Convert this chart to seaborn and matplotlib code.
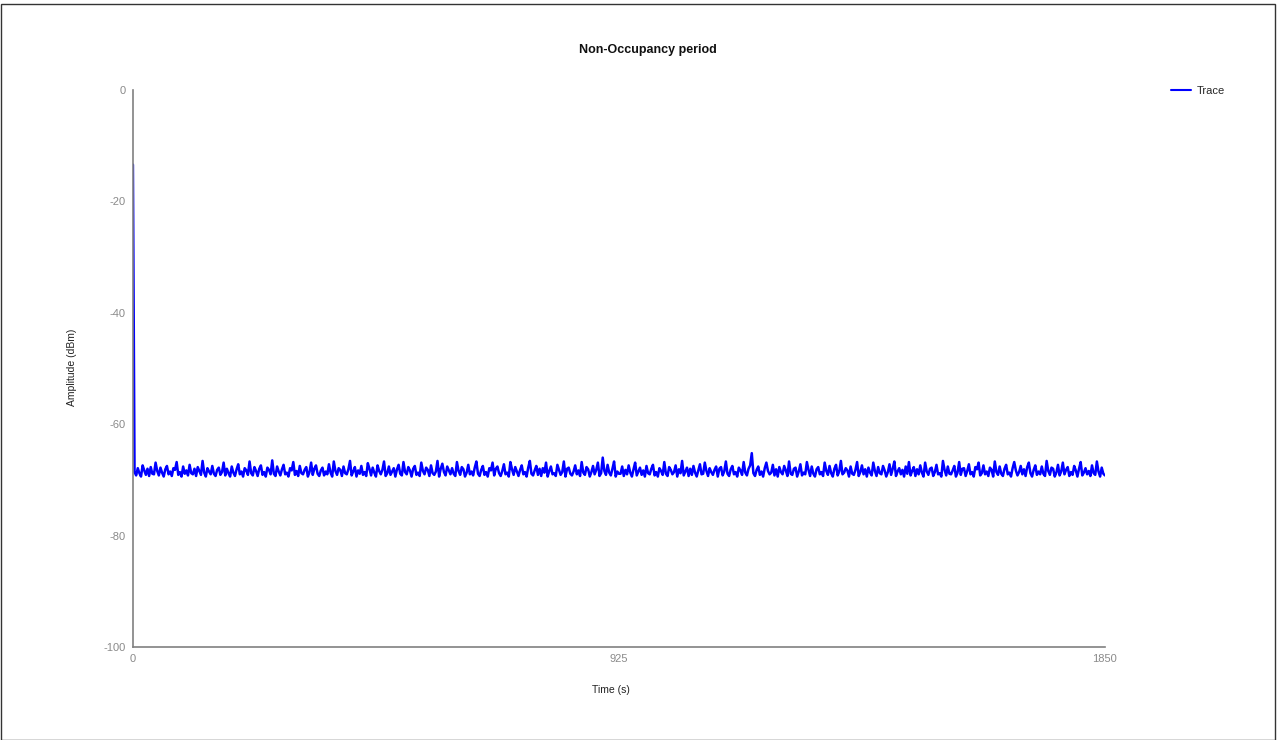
import numpy as np
import seaborn as sns
import matplotlib.pyplot as plt
from matplotlib.patches import Rectangle

# spectrum analyser trace, amplitude in dBm, one value per sample
start_amp = [-13.4]
noise_amp = [
    -68.6, -69.2, -67.9, -68.8, -69.4, -67.4, -68.3, -69.1, -68.0, -69.3, -67.7, -68.9, -69.0, -66.9, -68.4, -69.2, -67.8, -68.7, -69.4, -68.1,
    -67.5, -69.0, -68.5, -69.3, -67.9, -68.2, -66.8, -69.1, -68.6, -69.4, -67.6, -68.9, -68.3, -69.2, -67.3, -68.8, -69.0, -68.0, -69.3, -67.7,
    -68.4, -69.1, -66.6, -68.7, -69.4, -67.9, -68.5, -69.0, -67.5, -68.9, -69.3, -68.2, -67.8, -69.1, -68.6, -66.9, -69.2, -68.0, -68.8, -69.4,
    -67.6, -68.7, -69.3, -68.1, -67.2, -69.0, -68.5, -69.4, -67.9, -68.3, -69.1, -66.7, -68.8, -69.2, -67.7, -68.4, -69.3, -68.0, -67.4, -69.1,
    -68.6, -69.4, -67.8, -68.2, -69.0, -66.5, -68.9, -69.3, -67.6, -68.5, -69.2, -68.1, -67.3, -69.0, -68.7, -69.4, -67.9, -68.3, -66.8, -69.1,
    -68.4, -69.3, -67.5, -68.8, -69.0, -68.2, -67.7, -69.4, -68.6, -66.9, -69.1, -68.0, -67.4, -68.9, -69.3, -68.3, -67.8, -69.2, -68.5, -69.0,
    -67.2, -68.7, -69.4, -66.7, -68.4, -69.1, -67.9, -68.2, -69.3, -67.6, -68.8, -69.0, -68.1, -66.6, -69.2, -68.5, -67.7, -69.4, -68.3, -68.9,
    -67.5, -69.1, -68.6, -69.3, -67.0, -68.0, -69.2, -67.8, -68.7, -69.4, -67.4, -68.4, -69.0, -68.2, -66.7, -69.3, -68.8, -67.6, -69.1, -68.5,
    -67.9, -69.4, -68.1, -67.3, -68.9, -69.2, -66.8, -68.6, -69.0, -67.7, -68.3, -69.4, -68.0, -67.5, -69.1, -68.7, -69.3, -66.9, -68.4, -69.0,
    -67.8, -68.2, -69.3, -67.4, -68.8, -69.1, -68.5, -66.6, -69.4, -68.0, -67.1, -68.6, -69.2, -67.6, -68.3, -69.0, -67.9, -68.9, -69.3, -66.8,
    -68.4, -69.1, -67.7, -68.1, -69.4, -68.7, -67.3, -69.0, -68.5, -69.2, -67.8, -66.7, -68.9, -69.3, -68.2, -67.5, -69.1, -68.6, -69.4, -67.9,
    -68.3, -66.9, -69.2, -68.0, -67.6, -68.8, -69.3, -68.4, -67.2, -69.0, -68.7, -69.4, -66.8, -68.1, -69.1, -67.7, -68.5, -69.3, -68.2, -67.4,
    -69.0, -68.6, -69.4, -67.8, -66.6, -68.9, -69.2, -68.3, -67.5, -69.1, -68.0, -69.3, -67.9, -68.7, -66.9, -69.4, -68.4, -67.6, -69.0, -68.8,
    -69.3, -67.3, -68.2, -69.1, -68.6, -66.7, -69.4, -68.0, -67.8, -68.9, -69.2, -68.5, -67.4, -69.0, -68.3, -69.3, -66.8, -68.7, -69.1, -67.7,
    -68.1, -69.4, -68.6, -67.5, -69.0, -68.2, -66.9, -69.3, -68.8, -66.0, -68.4, -69.1, -67.3, -68.7, -69.2, -68.0, -66.7, -69.4, -68.5, -68.9,
    -68.9, -67.6, -69.3, -68.2, -69.0, -67.4, -68.7, -69.4, -68.1, -66.9, -69.2, -68.5, -67.8, -69.1, -68.3, -69.4, -67.5, -68.8, -69.0, -68.0,
    -67.3, -69.2, -68.6, -69.4, -67.9, -68.4, -69.1, -66.8, -68.9, -69.3, -67.7, -68.2, -69.0, -68.6, -67.4, -69.4, -68.1, -68.8, -66.6, -69.2,
    -68.5, -67.8, -69.3, -68.0, -69.1, -67.5, -68.7, -69.4, -68.3, -67.2, -69.0, -68.9, -66.9, -68.4, -69.3, -67.9, -68.6, -69.1, -68.2, -67.6,
    -69.4, -68.0, -67.7, -69.2, -68.5, -66.7, -68.9, -69.3, -68.1, -67.5, -69.0, -68.6, -69.4, -67.8, -68.3, -69.1, -66.8, -68.7, -69.2, -68.0,
    -67.4, -65.2, -68.8, -69.3, -68.2, -67.6, -69.1, -68.5, -69.4, -67.9, -66.9, -68.4, -69.0, -68.7, -67.3, -69.2, -68.1, -69.4, -67.7, -68.6,
    -69.0, -67.5, -68.3, -69.3, -66.7, -68.9, -69.1, -68.0, -67.8, -69.4, -68.5, -67.2, -69.2, -68.7, -69.0, -66.8, -68.2, -69.3, -67.6, -68.9,
    -69.4, -68.1, -67.7, -69.0, -68.6, -69.3, -66.9, -68.4, -69.1, -67.5, -68.8, -69.4, -68.0, -67.3, -69.2, -68.5, -66.6, -69.0, -68.7, -67.9,
    -68.3, -69.4, -67.6, -68.9, -69.1, -68.2, -66.8, -69.3, -68.6, -67.4, -69.0, -68.1, -69.4, -67.8, -68.7, -69.2, -66.9, -68.4, -69.3, -67.7,
    -68.8, -69.0, -67.5, -68.3, -69.4, -68.6, -67.2, -69.1, -68.0, -66.7, -69.3, -68.5, -67.9, -69.0, -68.2, -69.4, -67.6, -68.9, -66.8, -69.2,
    -68.4, -67.7, -69.3, -68.1, -69.0, -67.4, -68.7, -69.4, -66.9, -68.5, -69.1, -68.0, -67.8, -69.3, -68.6, -67.3, -69.0, -68.8, -69.4, -66.6,
    -68.2, -69.2, -67.6, -68.9, -69.0, -68.3, -67.5, -69.4, -68.7, -66.8, -69.1, -68.0, -67.9, -69.3, -68.4, -67.2, -69.0, -68.6, -69.4, -67.7,
    -68.1, -66.9, -69.2, -68.8, -67.4, -69.0, -68.5, -69.3, -67.8, -68.2, -69.4, -66.7, -68.6, -69.1, -67.6, -68.9, -69.3, -68.0, -67.3, -69.0,
    -68.7, -69.4, -67.9, -66.8, -68.3, -69.2, -68.6, -67.5, -69.0, -68.1, -69.3, -67.7, -66.9, -68.8, -69.4, -68.2, -67.4, -69.1, -68.5, -69.0,
    -67.6, -68.9, -69.3, -66.6, -68.4, -69.1, -67.8, -68.0, -69.4, -68.7, -67.3, -69.2, -68.5, -66.9, -69.0, -68.2, -67.7, -69.3, -68.6, -69.1,
    -67.5, -68.3, -69.4, -68.0, -66.8, -69.2, -68.7, -67.9, -69.0, -68.4, -69.3, -67.4, -68.8, -69.1, -66.7, -68.5, -69.4, -67.8, -68.9, -69.2,
]
amplitude = start_amp + noise_amp
t_end = 1850
x_ticks = [0, 925, 1850]
y_ticks = [0, -20, -40, -60, -80, -100]

time_s = np.linspace(0, t_end, len(amplitude))

sns.set_style("white")
plt.rcParams["font.family"] = ["Liberation Sans", "DejaVu Sans"]
plt.rcParams["axes.unicode_minus"] = False

fig = plt.figure(figsize=(12.78, 7.40), dpi=100)
ax = fig.add_axes([0.104, 0.1257, 0.7606, 0.7527])

sns.lineplot(x=time_s, y=amplitude, color="#0000ff", lw=1.8, label="Trace", ax=ax)

ax.set_xlim(0, t_end)
ax.set_ylim(-100, 0)
ax.set_xticks(x_ticks)
ax.set_yticks(y_ticks)
ax.set_xlabel("")
ax.set_ylabel("")
ax.tick_params(length=0, labelsize=8, labelcolor="#8a8a8a", pad=5)
sns.despine(ax=ax)
for s in ["left", "bottom"]:
    ax.spines[s].set_color("#808080")
    ax.spines[s].set_linewidth(1.2)

leg = ax.legend(loc="upper left", bbox_to_anchor=(1.058, 1.025), frameon=False,
                fontsize=8, handlelength=1.8, handletextpad=0.5)
for line in leg.get_lines():
    line.set_linewidth(1.5)

fig.text(0.507, 0.932, "Non-Occupancy period", ha="center", va="center",
         fontsize=9, fontweight="bold", color="#111111")
fig.text(0.478, 0.068, "Time (s)", ha="center", va="center", fontsize=7.5, color="#222222")
fig.text(0.056, 0.503, "Amplitude (dBm)", ha="center", va="center", rotation=90,
         fontsize=7.5, color="#222222")

fig.patches.append(Rectangle((0.001, 0.0), 0.997, 0.995, transform=fig.transFigure,
                             fill=False, edgecolor="#333333", lw=1))

fig.savefig("out.png", dpi=100)
